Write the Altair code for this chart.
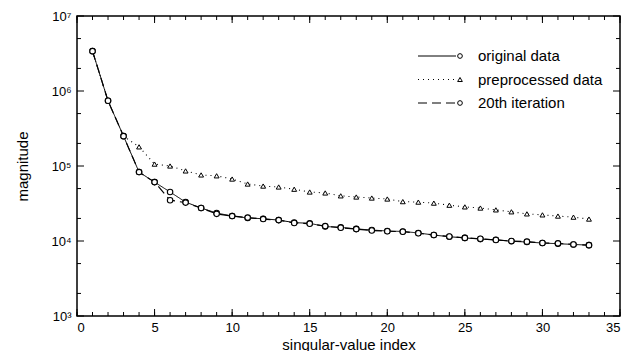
import altair as alt
import pandas as pd

# ---- data ----
index = list(range(1, 34))
original = [3.4e6, 7.4e5, 2.5e5, 8.3e4, 6.1e4, 4.5e4, 3.3e4, 2.75e4, 2.36e4, 2.15e4,
            2.03e4, 1.98e4, 1.9e4, 1.76e4, 1.72e4, 1.56e4, 1.52e4, 1.45e4, 1.4e4, 1.36e4,
            1.34e4, 1.28e4, 1.2e4, 1.14e4, 1.1e4, 1.06e4, 1.04e4, 9.9e3, 9.7e3, 9.4e3,
            9.2e3, 9.0e3, 8.8e3]
preprocessed = [3.4e6, 7.4e5, 2.5e5, 1.8e5, 1.06e5, 1.0e5, 8.6e4, 7.6e4, 7.4e4, 6.7e4,
                5.75e4, 5.4e4, 5.25e4, 4.9e4, 4.5e4, 4.37e4, 4.0e4, 3.86e4, 3.74e4, 3.63e4,
                3.35e4, 3.3e4, 3.2e4, 3.0e4, 2.85e4, 2.75e4, 2.6e4, 2.45e4, 2.3e4, 2.23e4,
                2.15e4, 2.08e4, 1.96e4]
iteration20 = [3.4e6, 7.4e5, 2.5e5, 8.3e4, 6.1e4, 3.5e4, 3.25e4, 2.75e4, 2.3e4, 2.15e4,
               2.05e4, 1.96e4, 1.9e4, 1.74e4, 1.7e4, 1.58e4, 1.5e4, 1.44e4, 1.38e4, 1.35e4,
               1.33e4, 1.27e4, 1.2e4, 1.15e4, 1.1e4, 1.07e4, 1.03e4, 1.0e4, 9.8e3, 9.4e3,
               9.3e3, 9.0e3, 8.8e3]
series_names = ["original data", "preprocessed data", "20th iteration"]

x_major = [0, 5, 10, 15, 20, 25, 30, 35]
x_minor = list(range(0, 36))
y_major = [1e3, 1e4, 1e5, 1e6, 1e7]
y_minor = [2e3, 5e3, 2e4, 5e4, 2e5, 5e5, 2e6, 5e6]

rows = []
for name, vals in zip(series_names, [original, preprocessed, iteration20]):
    for i, v in zip(index, vals):
        rows.append({"index": i, "value": v, "series": name})
df = pd.DataFrame(rows)
legend_df = pd.DataFrame({"series": series_names})

W, H = 543, 300
FONT = "Liberation Sans"

xscale = alt.Scale(domain=[0, 35], nice=False, zero=False)
yscale = alt.Scale(type="log", domain=[1e3, 1e7], nice=False)

xaxis = alt.Axis(values=x_major, title="singular-value index", grid=False, domain=False,
                 ticks=False, tickSize=0, labelPadding=5, labelFontSize=13, labelFont=FONT,
                 labelColor="black", titleFont=FONT, titleFontSize=15, titleFontWeight="normal",
                 titleColor="black", titlePadding=3)
yaxis = alt.Axis(values=y_major, title="magnitude", grid=False, domain=False, ticks=False,
                 tickSize=0, labelPadding=6, labelFontSize=13, labelFont=FONT, labelColor="black",
                 labelExpr="'10' + ['⁰','¹','²','³','⁴','⁵','⁶','⁷'][round(log(datum.value)/LN10)]",
                 titleFont=FONT, titleFontSize=15, titleFontWeight="normal", titleColor="black",
                 titlePadding=20)

dash_scale = alt.Scale(domain=series_names, range=[[1, 0], [1, 4], [9, 5]])
width_scale = alt.Scale(domain=series_names, range=[1.0, 1.2, 2.2])
shape_scale = alt.Scale(domain=series_names, range=["circle", "triangle-up", "circle"])

X = alt.X("index:Q", scale=xscale, axis=xaxis, title="singular-value index")
Y = alt.Y("value:Q", scale=yscale, axis=yaxis, title="magnitude")

base = alt.Chart(df)

lines = base.mark_line(color="black").encode(
    x=X, y=Y,
    strokeDash=alt.StrokeDash("series:N", scale=dash_scale, legend=None),
    strokeWidth=alt.StrokeWidth("series:N", scale=width_scale, legend=None),
    detail="series:N",
    order=alt.Order("index:Q"),
)

circles = base.transform_filter("datum.series !== 'preprocessed data'").mark_point(
    shape="circle", filled=True, fill="white", stroke="black", strokeWidth=1.1, opacity=1, size=30
).encode(x=X, y=Y)

triangles = base.transform_filter("datum.series === 'preprocessed data' && datum.index > 3").mark_point(
    shape="triangle-up", filled=True, fill="white", stroke="black", strokeWidth=1.0, opacity=1, size=24
).encode(x=X, y=Y)

# inward ticks on all four sides
xmaj_df = pd.DataFrame({"index": x_major})
xmin_df = pd.DataFrame({"index": x_minor})
ymaj_df = pd.DataFrame({"value": y_major})
ymin_df = pd.DataFrame({"value": y_minor})

def xticks(d, length):
    bottom = alt.Chart(d).mark_rule(color="black", strokeWidth=1).encode(
        x=X, y=alt.value(H), y2=alt.value(H - length))
    top = alt.Chart(d).mark_rule(color="black", strokeWidth=1).encode(
        x=X, y=alt.value(0), y2=alt.value(length))
    return [bottom, top]

def yticks(d, length):
    left = alt.Chart(d).mark_rule(color="black", strokeWidth=1).encode(
        y=Y, x=alt.value(0), x2=alt.value(length))
    right = alt.Chart(d).mark_rule(color="black", strokeWidth=1).encode(
        y=Y, x=alt.value(W), x2=alt.value(W - length))
    return [left, right]

tick_layers = xticks(xmin_df, 4) + xticks(xmaj_df, 7) + yticks(ymin_df, 4) + yticks(ymaj_df, 7)

main = alt.layer(lines, circles, triangles, *tick_layers)

# ---- legend (rows placed through a point scale) ----
LY = alt.Y("series:N", sort=series_names, axis=None,
           scale=alt.Scale(type="point", domain=series_names, range=[40, 87], padding=0))
leg_base = alt.Chart(legend_df)
leg_lines = leg_base.mark_rule(color="black").encode(
    y=LY, x=alt.value(341), x2=alt.value(379),
    strokeDash=alt.StrokeDash("series:N", scale=dash_scale, legend=None),
    strokeWidth=alt.StrokeWidth("series:N", scale=width_scale, legend=None),
)
leg_marks = leg_base.mark_point(filled=True, fill="white", stroke="black", strokeWidth=1.0,
                                opacity=1, size=22).encode(
    y=LY, x=alt.value(383),
    shape=alt.Shape("series:N", scale=shape_scale, legend=None),
)
leg_text = leg_base.mark_text(align="left", baseline="middle", font=FONT, fontSize=15,
                              color="black").encode(
    y=LY, x=alt.value(401), text="series:N",
)
legend_layer = alt.layer(leg_lines, leg_marks, leg_text)

chart = alt.layer(main, legend_layer).resolve_scale(y="independent").properties(
    width=W, height=H,
    autosize=alt.AutoSizeParams(type="none"),
    padding={"left": 69, "top": 8, "right": 7, "bottom": 35},
).configure(
    background="white",
    view=alt.ViewConfig(stroke="black", strokeWidth=1.5),
)

chart.save("out.html", embed_options={"renderer": "svg", "actions": False})
